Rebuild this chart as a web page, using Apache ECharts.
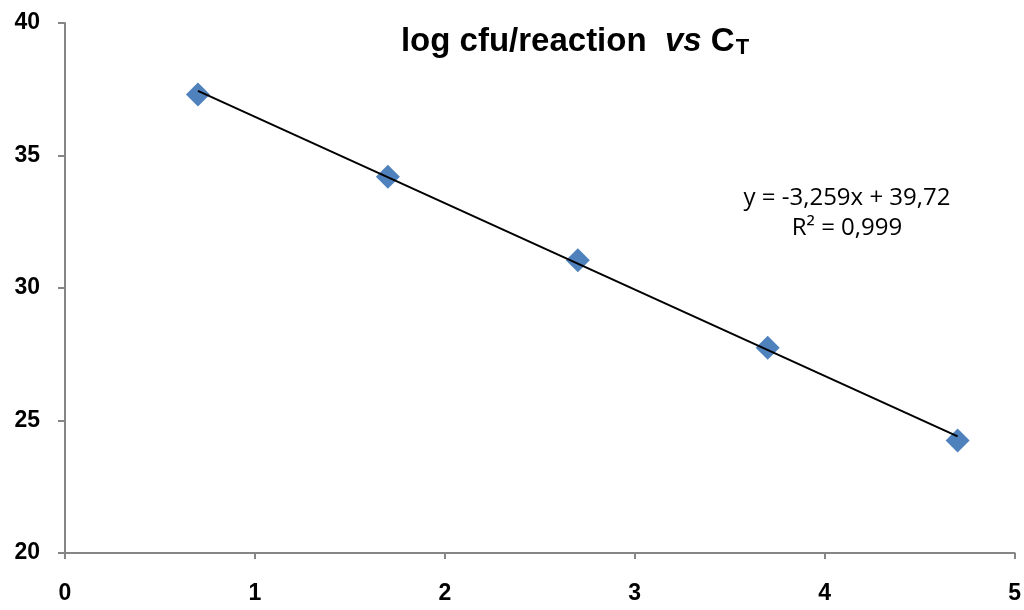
<!DOCTYPE html>
<html>
<head>
<meta charset="utf-8">
<script src="https://cdn.jsdelivr.net/npm/echarts@6/dist/echarts.min.js"></script>
<style>
  html, body { margin: 0; padding: 0; background: #fff; }
  #chart { width: 1024px; height: 610px; }
</style>
</head>
<body>
<div id="chart"></div>
<script>
// log cfu/reaction (x) against Ct (y)
var logCfu = [0.7, 1.7, 2.7, 3.7, 4.7];
var ctValues = [37.3, 34.2, 31.05, 27.75, 24.25];
// linear trendline shown in the chart
var trendX = [0.7, 4.7];
var trendY = [37.44, 24.40];
var equationLines = ['y = -3,259x + 39,72', 'R² = 0,999'];

var chart = echarts.init(document.getElementById('chart'));

var points = logCfu.map(function (x, i) { return [x, ctValues[i]]; });
var trend = trendX.map(function (x, i) { return [x, trendY[i]]; });

var axisGray = '#868686';

var option = {
    animation: false,
    backgroundColor: '#ffffff',
    title: [{
        left: 570,
        top: 19,
        textAlign: 'center',
        text: '{b|log cfu/reaction  }{i|vs}{b| C}{s|T}',
        textStyle: {
            rich: {
                b: { fontFamily: 'Liberation Sans', fontWeight: 'bold', fontSize: 33, color: '#000' },
                i: { fontFamily: 'Liberation Sans', fontWeight: 'bold', fontStyle: 'italic', fontSize: 33, color: '#000' },
                s: { fontFamily: 'Liberation Sans', fontWeight: 'bold', fontSize: 22, color: '#000', padding: [13, 0, 0, 1] }
            }
        }
    }, {
        left: 842,
        top: 178,
        textAlign: 'center',
        text: equationLines.join('\n'),
        textStyle: {
            fontFamily: 'Open Sans',
            fontWeight: 'normal',
            fontSize: 24,
            lineHeight: 30,
            color: '#000'
        }
    }],
    grid: {
        left: 65,
        right: 7,
        top: 23,
        bottom: 57,
        containLabel: false
    },
    xAxis: {
        type: 'value',
        min: 0,
        max: 5,
        interval: 1,
        splitLine: { show: false },
        axisLine: { show: true, lineStyle: { color: axisGray, width: 2 } },
        axisTick: { show: true, inside: false, length: 6, lineStyle: { color: axisGray, width: 2 } },
        axisLabel: {
            margin: 29,
            color: '#000',
            fontFamily: 'Liberation Sans',
            fontWeight: 'bold',
            fontSize: 23
        }
    },
    yAxis: {
        type: 'value',
        min: 20,
        max: 40,
        interval: 5,
        splitLine: { show: false },
        axisLine: { show: true, lineStyle: { color: axisGray, width: 2 } },
        axisTick: { show: true, inside: false, length: 7, lineStyle: { color: axisGray, width: 2 } },
        axisLabel: {
            margin: 25,
            color: '#000',
            fontFamily: 'Liberation Sans',
            fontWeight: 'bold',
            fontSize: 23
        }
    },
    series: [{
        name: 'Ct',
        type: 'scatter',
        symbol: 'diamond',
        symbolSize: 24,
        itemStyle: { color: '#4F81BD', opacity: 1 },
        data: points,
        z: 2
    }, {
        name: 'Linear',
        type: 'line',
        showSymbol: false,
        symbol: 'none',
        lineStyle: { color: '#000', width: 2 },
        data: trend,
        z: 3
    }]
};

chart.setOption(option);
</script>
</body>
</html>
